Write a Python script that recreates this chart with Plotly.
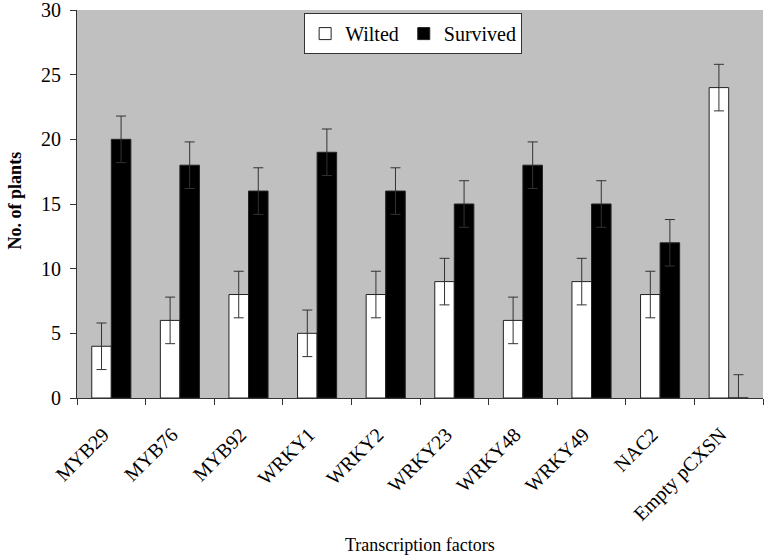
import plotly.graph_objects as go

categories = ["MYB29", "MYB76", "MYB92", "WRKY1", "WRKY2", "WRKY23", "WRKY48", "WRKY49", "NAC2", "Empty pCXSN"]
wilted = [4, 6, 8, 5, 8, 9, 6, 9, 8, 24]
survived = [20, 18, 16, 19, 16, 15, 18, 15, 12, 0]
wilted_err = [1.8, 1.8, 1.8, 1.8, 1.8, 1.8, 1.8, 1.8, 1.8, 1.8]
survived_err = [1.8, 1.8, 1.8, 1.8, 1.8, 1.8, 1.8, 1.8, 1.8, 1.8]

font_family = "Liberation Serif, Times New Roman, serif"

fig = go.Figure()
fig.add_trace(go.Bar(
    x=categories, y=wilted, name="Wilted",
    marker=dict(color="white", line=dict(color="#222222", width=1)),
    error_y=dict(type="data", array=wilted_err, visible=True, color="#333333", thickness=1, width=5),
))
fig.add_trace(go.Bar(
    x=categories, y=survived, name="Survived",
    marker=dict(color="black", line=dict(color="#222222", width=1)),
    error_y=dict(type="data", array=survived_err, visible=True, color="#333333", thickness=1, width=5),
))

fig.update_layout(
    width=768, height=560,
    margin=dict(l=77, r=5, t=10, b=162, autoexpand=False),
    barmode="group", bargap=0.43, bargroupgap=0,
    plot_bgcolor="#C0C0C0", paper_bgcolor="white",
    font=dict(family=font_family, color="black", size=18),
    legend=dict(orientation="h", x=0.49, y=0.992, xanchor="center", yanchor="top",
                bgcolor="white", bordercolor="#333333", borderwidth=1,
                font=dict(size=20), itemwidth=30, traceorder="normal"),
    xaxis=dict(
        tickson="boundaries", ticks="outside", ticklen=6, tickcolor="#333333",
        tickangle=-45, showline=True, linecolor="#333333", linewidth=1,
        showgrid=False, tickfont=dict(size=20), automargin=False,
        ticklabelstandoff=16, ticklabelshift=-8,
    ),
    yaxis=dict(
        range=[0, 30], tickvals=[0, 5, 10, 15, 20, 25, 30], ticks="outside", ticklen=6,
        tickcolor="#333333", showline=True, linecolor="#333333", linewidth=1,
        showgrid=False, zeroline=False, tickfont=dict(size=20), automargin=False,
        ticklabeloverflow="allow", ticklabelstandoff=5,
    ),
    annotations=[
        dict(text="Transcription factors", xref="paper", yref="paper", x=0.5, y=-0.379,
             xanchor="center", yanchor="middle", showarrow=False, font=dict(size=18)),
        dict(text="<b>No. of plants</b>", xref="paper", yref="paper", x=-0.090, y=0.51,
             xanchor="center", yanchor="middle", textangle=-90, showarrow=False,
             font=dict(size=18)),
    ],
)

fig.write_html("out.html", config={"displayModeBar": False},
               post_script="document.body.style.margin='0';")
